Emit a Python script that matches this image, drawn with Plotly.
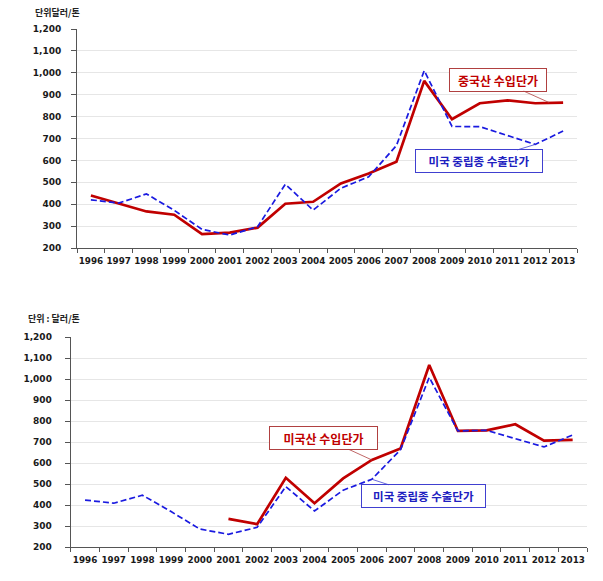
import plotly.graph_objects as go

years = [str(y) for y in range(1996, 2014)]

# Top chart
china_import = [440, 403, 367, 352, 263, 270, 293, 402, 411, 495, 540, 594, 963, 788, 861, 874, 861, 864]
us_export_top = [420, 405, 447, 372, 285, 259, 297, 491, 373, 473, 525, 668, 1010, 755, 754, 715, 673, 734]

# Bottom chart
us_import = [None, None, None, None, None, 335, 310, 531, 410, 528, 616, 671, 1068, 754, 757, 786, 708, 712]
us_export_bot = [425, 410, 448, 370, 287, 262, 295, 489, 373, 472, 524, 665, 1009, 754, 757, 716, 678, 735]

unit_top = "단위달러/톤"
unit_bot = "단위 : 달러/톤"
y_ticks = [200, 300, 400, 500, 600, 700, 800, 900, 1000, 1100, 1200]

W, H = 603, 581
RED = "#C00000"
BLUE = "#1A1AE0"

fig = go.Figure()
fig.add_trace(go.Scatter(x=years, y=china_import, mode="lines", line=dict(color=RED, width=2.7),
                         xaxis="x", yaxis="y", showlegend=False))
fig.add_trace(go.Scatter(x=years, y=us_export_top, mode="lines", line=dict(color=BLUE, width=1.7, dash="6px,3px"),
                         xaxis="x", yaxis="y", showlegend=False))
fig.add_trace(go.Scatter(x=years, y=us_import, mode="lines", line=dict(color=RED, width=2.7),
                         xaxis="x2", yaxis="y2", showlegend=False))
fig.add_trace(go.Scatter(x=years, y=us_export_bot, mode="lines", line=dict(color=BLUE, width=1.7, dash="6px,3px"),
                         xaxis="x2", yaxis="y2", showlegend=False))

tickfont = dict(family="DejaVu Sans", size=9, color="#1a1a1a", weight="bold")
xtickfont = dict(family="DejaVu Sans", size=8.8, color="#1a1a1a", weight="bold")

def xax(domain, anchor):
    return dict(domain=domain, anchor=anchor, type="category", tickson="boundaries",
                ticks="outside", ticklen=4, tickcolor="#555", showline=True, linecolor="#555",
                linewidth=1, showgrid=False, tickfont=xtickfont, tickangle=0, fixedrange=True,
                range=[-0.5, 17.5], automargin=False, ticklabelstandoff=4)

def yax(domain, anchor, standoff):
    return dict(domain=domain, anchor=anchor, range=[200, 1200], tickvals=y_ticks,
                tickformat=",", ticks="outside", ticklen=5, tickcolor="#555", showline=True,
                linecolor="#555", linewidth=1, showgrid=True, gridcolor="#e6e6e6",
                gridwidth=1, tickfont=tickfont, zeroline=False, automargin=False,
                ticklabelstandoff=standoff, fixedrange=True)

fig.update_layout(
    width=W, height=H,
    margin=dict(l=0, r=0, t=0, b=0),
    paper_bgcolor="white", plot_bgcolor="white",
    xaxis=xax([77 / W, 577 / W], "y"),
    yaxis=yax([(H - 248) / H, (H - 29) / H], "x", 8),
    xaxis2=xax([70.7 / W, 587 / W], "y2"),
    yaxis2=yax([(H - 547.3) / H, (H - 337.3) / H], "x2", 11),
)

annfont_r = dict(family="Noto Sans CJK KR", size=12, color=RED, weight="bold")
annfont_b = dict(family="Noto Sans CJK KR", size=11.5, color="#2020C0", weight="bold")

fig.add_annotation(text=unit_top, xref="paper", yref="paper", x=33 / W, y=(H - 12) / H,
                   xanchor="left", yanchor="middle", showarrow=False,
                   font=dict(family="Noto Sans CJK KR", size=9, color="#222", weight="bold"))
fig.add_annotation(text=unit_bot, xref="paper", yref="paper", x=26 / W, y=(H - 318) / H,
                   xanchor="left", yanchor="middle", showarrow=False,
                   font=dict(family="Noto Sans CJK KR", size=9, color="#222", weight="bold"))

# Callouts (x given as category index)
fig.add_annotation(text="중국산 수입단가", x=16.5, y=china_import[16] + 3, xref="x", yref="y",
                   ax=-51, ay=-23, showarrow=True, arrowhead=0, arrowwidth=0.8, arrowcolor="#B04040",
                   bordercolor="#B04040", borderwidth=1, bgcolor="white", borderpad=3,
                   width=90, height=16, font=annfont_r)
fig.add_annotation(text="미국 중립종 수출단가", x=16, y=us_export_top[16], xref="x", yref="y",
                   ax=-56, ay=17, showarrow=True, arrowhead=0, arrowwidth=0.8, arrowcolor="#4040D0",
                   bordercolor="#4040D0", borderwidth=1, bgcolor="white", borderpad=3,
                   width=120, height=16, font=annfont_b)
fig.add_annotation(text="미국산 수입단가", x=10, y=us_import[10], xref="x2", yref="y2",
                   ax=-48, ay=-22, showarrow=True, arrowhead=0, arrowwidth=0.8, arrowcolor="#B04040",
                   bordercolor="#B04040", borderwidth=1, bgcolor="white", borderpad=3,
                   width=101, height=16, font=annfont_r)
fig.add_annotation(text="미국 중립종 수출단가", x=10, y=us_export_bot[10], xref="x2", yref="y2",
                   ax=52, ay=17, showarrow=True, arrowhead=0, arrowwidth=0.8, arrowcolor="#4040D0",
                   bordercolor="#4040D0", borderwidth=1, bgcolor="white", borderpad=3,
                   width=117, height=16, font=annfont_b)

fig.write_html("out.html", config={"displayModeBar": False},
               post_script="document.body.style.margin='0';")
